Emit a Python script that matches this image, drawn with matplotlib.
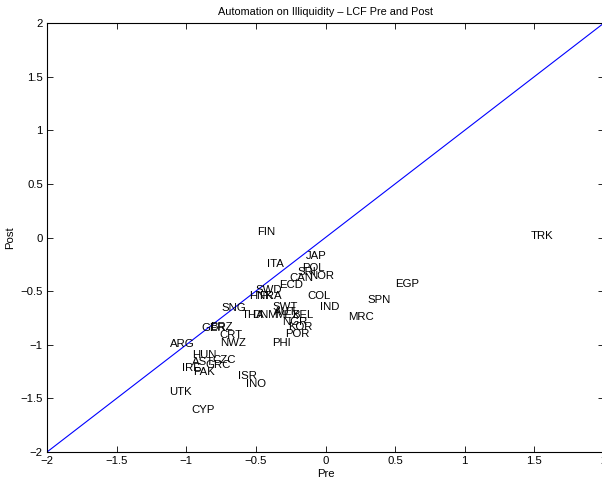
import matplotlib as mpl
mpl.use('Agg')
from matplotlib import pyplot as plt
from matplotlib.ticker import FuncFormatter

# Country codes with pre / post values
countries = [
    'FIN', 'TRK', 'JAP', 'ITA', 'POL', 'SRI', 'NOR', 'CAN', 'ECD', 'EGP',
    'SWD', 'HNK', 'FRA', 'COL', 'SPN', 'IND', 'SNG', 'SWT', 'AUT', 'THA',
    'DNM', 'MEX', 'BEL', 'MRC', 'NGR', 'KOR', 'GER', 'BRZ', 'POR', 'CRT',
    'NWZ', 'ARG', 'PHI', 'HUN', 'CZC', 'AST', 'GRC', 'IRE', 'PAK', 'ISR',
    'INO', 'UTK', 'CYP',
]
pre = [
    -0.49, 1.47, -0.14, -0.42, -0.17, -0.20, -0.12, -0.26, -0.33, 0.50,
    -0.50, -0.55, -0.48, -0.13, 0.30, -0.04, -0.75, -0.38, -0.37, -0.60,
    -0.53, -0.36, -0.24, 0.16, -0.31, -0.27, -0.89, -0.83, -0.29, -0.76,
    -0.76, -1.12, -0.38, -0.96, -0.81, -0.96, -0.86, -1.03, -0.95, -0.63,
    -0.57, -1.12, -0.96,
]
post = [
    0.05, 0.01, -0.17, -0.25, -0.28, -0.32, -0.36, -0.38, -0.44, -0.43,
    -0.49, -0.55, -0.55, -0.55, -0.58, -0.65, -0.66, -0.65, -0.69, -0.72,
    -0.72, -0.72, -0.72, -0.74, -0.79, -0.83, -0.84, -0.83, -0.90, -0.91,
    -0.98, -0.99, -0.98, -1.10, -1.14, -1.16, -1.19, -1.22, -1.25, -1.29,
    -1.37, -1.44, -1.61,
]
diagonal = [-2, 2]
ticks = [-2, -1.5, -1, -0.5, 0, 0.5, 1, 1.5, 2]


if __name__ == '__main__':

    mpl.rc('font', family=['Liberation Sans', 'DejaVu Sans'], size=8.2)
    mpl.rc('xtick', direction='in', top=True)
    mpl.rc('ytick', direction='in', right=True)

    fig = plt.figure(figsize=(6.02, 4.78), dpi=100)
    axes = fig.add_axes([47 / 602, 26 / 478, 557 / 602, 429 / 478])

    axes.plot(diagonal, diagonal, color='blue', lw=0.8)

    for name, x, y in zip(countries, pre, post):
        axes.text(x, y, name, ha='left', va='center', fontsize=8.2)

    axes.set_xlim(-2, 2)
    axes.set_ylim(-2, 2)
    axes.set_xticks(ticks)
    axes.set_yticks(ticks)
    fmt = FuncFormatter(lambda v, pos: ('%g' % v).replace('-', '\u2212'))
    axes.xaxis.set_major_formatter(fmt)
    axes.yaxis.set_major_formatter(fmt)
    axes.tick_params(length=4, width=0.6, pad=3, labelsize=8.2)
    for spine in axes.spines.values():
        spine.set_linewidth(0.8)

    axes.set_xlabel('Pre', fontsize=8.2, labelpad=2)
    axes.set_ylabel('Post', fontsize=8.2, labelpad=4)
    axes.set_title('Automation on Illiquidity \u2013 LCF Pre and Post', fontsize=7.8, pad=6)

    fig.savefig('out.png', dpi=100)
